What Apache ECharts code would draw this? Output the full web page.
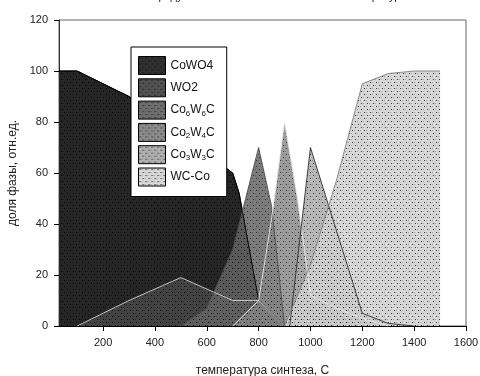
<!DOCTYPE html>
<html><head><meta charset="utf-8">
<script src="https://cdn.jsdelivr.net/npm/echarts@6/dist/echarts.min.js"></script>
<style>html,body{margin:0;padding:0;background:#fff}#c{width:480px;height:376px}</style>
</head><body><div id="c"></div>
<script>
// Data: [temperature, fraction]
const seriesNames = ['CoWO4', 'WO2', 'Co6W6C', 'Co2W4C', 'Co3W3C', 'WC-Co'];
const cowo4  = [[30,100],[100,100],[300,90],[500,75],[700,60],[725,52],[750,38],[800,10],[900,0]];
const wo2    = [[100,0],[300,10],[500,19],[700,10],[800,10],[900,0]];
const co6w6c = [[500,0],[600,7],[700,30],[750,50],[800,70],[850,47],[900,0]];
const co2w4c = [[700,0],[800,10],[850,42],[900,80],[950,50],[1000,12],[1100,7],[1200,3],[1300,0]];
const co3w3c = [[920,0],[1000,70],[1200,5],[1300,1],[1400,0]];
const wcco   = [[900,0],[1000,24],[1100,57],[1200,95],[1300,99],[1400,100],[1500,100]];
const xTicks = [200,400,600,800,1000,1200,1400,1600];
const yTicks = [0,20,40,60,80,100,120];

const fills   = ['#262626','#464646','#666666','#878787','#a9a9a9','#d0d0d0'];
const swatch  = ['#303030','#525252','#6e6e6e','#8c8c8c','#b0b0b0','#d8d8d8'];
const lines   = ['#000000','#d0d0d0','#505050','#e8e8e8','#303030','#808080'];
const opac    = [1, 0.92, 0.85, 0.82, 0.82, 0.85];
const labels  = {
  'CoWO4':'CoWO4','WO2':'WO2',
  'Co6W6C':'Co{s|6}W{s|6}C','Co2W4C':'Co{s|2}W{s|4}C','Co3W3C':'Co{s|3}W{s|3}C','WC-Co':'WC-Co'
};

function pattern(base){
  const c = document.createElement('canvas');
  c.width = 6; c.height = 6;
  const g = c.getContext('2d');
  g.fillStyle = base; g.fillRect(0,0,6,6);
  g.fillStyle = 'rgba(0,0,0,0.9)';
  g.fillRect(1,1,1,1); g.fillRect(4,4,1,1);
  g.fillStyle = 'rgba(0,0,0,0.3)';
  g.fillRect(3,1,1,1); g.fillRect(0,4,1,1);
  return {image:c, repeat:'repeat'};
}

const datas = [cowo4, wo2, co6w6c, co2w4c, co3w3c, wcco];
const areas = datas.map((d,i)=>({
  name: seriesNames[i], type:'line', data:d, showSymbol:false, symbol:'none',
  lineStyle:{color:lines[i], width:1, opacity: i===0 ? 1 : 0},
  itemStyle:{color:fills[i]},
  areaStyle:{color:pattern(fills[i]), opacity:opac[i]},
  z: 2+i, animation:false
}));
const outlines = datas.map((d,i)=>({
  name: seriesNames[i], type:'line', data:d, showSymbol:false, symbol:'none',
  lineStyle:{color:lines[i], width:1, opacity:0.9},
  itemStyle:{color:fills[i]},
  z: 10+i, animation:false, silent:true
}));

const chart = echarts.init(document.getElementById('c'), null, {renderer:'canvas'});
chart.setOption({
  animation:false,
  title:{text:'Фазовый состав продуктов синтеза в зависимости от температуры синтеза', left:62, top:-14,
    textStyle:{fontSize:11, fontWeight:'normal', fontFamily:'Arial', color:'#222'}},
  grid:{left:59, right:14, top:20, bottom:50, outerBoundsMode:'none', show:true, borderColor:'#666', borderWidth:1, backgroundColor:'transparent'},
  legend:{
    orient:'vertical', left:131, top:47, icon:'rect', itemWidth:27, itemHeight:18, itemGap:3.3,
    backgroundColor:'#fff', borderColor:'#000', borderWidth:1, borderRadius:0,
    padding:[9,12,10,7], z:20,
    data: seriesNames.map((n,i)=>({name:n, icon:'rect',
      itemStyle:{color:pattern(swatch[i]), borderColor:'#000', borderWidth:1}})),
    formatter: n => labels[n],
    textStyle:{fontSize:12, fontFamily:'Arial', color:'#111',
      rich:{s:{fontSize:8, fontFamily:'Arial', color:'#111', padding:[7,0,0,0]}}}
  },
  xAxis:{type:'value', min:30, max:1600,
    name:'температура синтеза, С', nameLocation:'middle', nameGap:39,
    nameTextStyle:{fontSize:12, fontFamily:'Arial', color:'#222'},
    axisLine:{show:true, onZero:false, lineStyle:{color:'#000', width:1}},
    axisTick:{show:true, customValues:xTicks, length:5, lineStyle:{color:'#000'}},
    axisLabel:{customValues:xTicks, formatter: v => String(v), fontSize:11, fontFamily:'Arial', color:'#222', margin:11},
    splitLine:{show:false}},
  yAxis:{type:'value', min:0, max:120, interval:20,
    name:'доля фазы, отн.ед.', nameLocation:'middle', nameGap:35, nameRotate:90,
    nameTextStyle:{fontSize:12, fontFamily:'Arial', color:'#222'},
    axisLine:{show:true, lineStyle:{color:'#333', width:1}},
    axisTick:{show:true, length:5, lineStyle:{color:'#000'}},
    axisLabel:{fontSize:11, fontFamily:'Arial', color:'#222', margin:11, customValues:yTicks},
    splitLine:{show:false}},
  series: areas.concat(outlines)
});
</script></body></html>
